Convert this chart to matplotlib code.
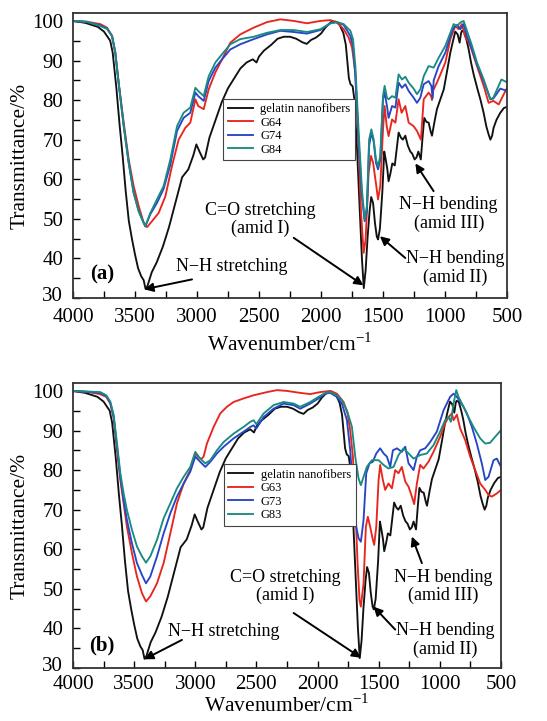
import numpy as np
import matplotlib
matplotlib.use("Agg")
import matplotlib.pyplot as plt
from matplotlib.ticker import MultipleLocator
from matplotlib.transforms import ScaledTranslation

plt.rcParams['font.family'] = ['Liberation Serif', 'DejaVu Serif']
plt.rcParams['mathtext.fontset'] = 'custom'
plt.rcParams['mathtext.rm'] = 'Liberation Serif'

# ---------------- data ----------------
# gelatin nanofibers (same in both panels)
wn_gel = [4000, 3900, 3800, 3750, 3700, 3680, 3650, 3625, 3600, 3575, 3550, 3525, 3500, 3475, 3450, 3430,
          3415, 3400, 3390, 3365, 3325, 3275, 3225, 3175, 3120, 3070, 3030, 3005, 2980, 2950, 2935, 2900,
          2850, 2800, 2750, 2700, 2650, 2600, 2550, 2520, 2500, 2460, 2400, 2350, 2300, 2250, 2200, 2150,
          2115, 2080, 2040, 2000, 1965, 1920, 1880, 1850, 1820, 1800, 1785, 1775, 1762, 1745, 1730, 1710,
          1690, 1670, 1655, 1640, 1625, 1608, 1595, 1580, 1565, 1550, 1540, 1525, 1505, 1490, 1478, 1465,
          1455, 1440, 1425, 1405, 1385, 1374, 1355, 1340, 1320, 1300, 1280, 1265, 1245, 1230, 1215, 1205,
          1195, 1180, 1167, 1150, 1132, 1115, 1105, 1085, 1065, 1040, 1010, 985, 957, 935, 917, 898, 882,
          870, 863, 845, 825, 809, 790, 769, 740, 715, 690, 667, 650, 634, 620, 608, 585, 554, 525, 500]
t_gel = [100, 99.5, 98.5, 97.3, 95, 92, 83, 74, 66, 57, 49.5, 45, 41, 37.5, 35.5, 34.5,
         32.3, 33, 34, 36.5, 39, 43, 48, 54, 60.5, 62.5, 66, 68.8, 67, 65, 65.5, 70.5,
         75, 79.5, 83, 85.5, 88, 89.5, 90.3, 89.5, 91, 92.5, 94, 95.5, 96, 96, 95.5, 94.6,
         94.2, 95.2, 95.8, 96.8, 98.3, 99.7, 99.8, 99, 97, 94, 89, 85.5, 84, 83.5, 80, 68,
         54, 40, 32.5, 37, 45, 52, 55.5, 54, 49, 45.5, 44.8, 47.5, 57, 67, 65, 62.5,
         59.5, 61.5, 64, 63.5, 69, 71.8, 70.5, 70, 71, 68.5, 67, 66.5, 65, 65.5, 67, 66,
         65, 71, 75.5, 74.5, 74.3, 72, 71, 74.5, 77.7, 80, 82.7, 87, 92, 95, 97.3, 96.6, 94.5,
         97, 97.5, 97.2, 95, 92.8, 89.5, 86.5, 83, 80.2, 77, 73.4, 71.5, 70, 71, 73, 75, 76.8, 78, 78.3]

# panel (a)
wn_g64 = [4000, 3890, 3780, 3726, 3685, 3659, 3632, 3591, 3551, 3511, 3470, 3430, 3403, 3363, 3309, 3255,
          3202, 3148, 3094, 3054, 3013, 2990, 2946, 2906, 2852, 2798, 2731, 2651, 2543, 2435, 2328, 2220,
          2113, 2005, 1925, 1871, 1817, 1777, 1750, 1723, 1696, 1677, 1656, 1640, 1616, 1597, 1580, 1554,
          1540, 1522, 1500, 1487, 1470, 1455, 1427, 1400, 1374, 1350, 1320, 1293, 1253, 1226, 1194, 1172,
          1132, 1112, 1105, 1095, 1065, 997, 957, 917, 890, 863, 840, 796, 742, 688, 648, 610, 567, 500]
t_g64 = [100, 99.8, 99.2, 98.3, 96.2, 92, 84.4, 74.3, 65, 58.3, 53.2, 49, 47.9, 49.4, 51.5, 55.7,
         63.3, 70, 73, 74.3, 80.2, 78.5, 77.7, 82.7, 87, 90.3, 94.5, 96.6, 98.3, 99.7, 100.4, 100,
         99.4, 100, 100.2, 99.7, 97.9, 95.8, 93.3, 87, 67.5, 51.5, 41.4, 44.8, 61.6, 65.9, 64.2, 58.3,
         54.9, 58.3, 72.6, 78.5, 73.4, 70.9, 75.1, 74.3, 80.2, 76.8, 78.5, 74.3, 73.4, 72.2, 70, 80.2,
         81.9, 81, 80, 82.5, 84.4, 89.5, 95.4, 98.7, 97.9, 99.2, 96.2, 93.7, 88.6, 83.6, 79.3, 79.8, 78.9, 83.1]

wn_g74 = [4000, 3887, 3780, 3726, 3685, 3659, 3632, 3591, 3551, 3511, 3470, 3430, 3417, 3376, 3323, 3269,
          3215, 3161, 3108, 3054, 3013, 2990, 2946, 2906, 2852, 2798, 2731, 2651, 2543, 2435, 2328, 2220,
          2113, 2005, 1925, 1871, 1817, 1763, 1742, 1723, 1696, 1670, 1648, 1630, 1612, 1594, 1575, 1557,
          1540, 1522, 1500, 1487, 1468, 1455, 1427, 1400, 1374, 1347, 1320, 1293, 1253, 1226, 1199, 1172,
          1132, 1110, 1100, 1091, 1051, 997, 957, 930, 903, 876, 850, 823, 782, 742, 688, 634, 610, 554, 500]
t_g74 = [100, 99.7, 98.9, 98.1, 96.2, 92, 84.4, 73.4, 64.2, 56.6, 51.9, 49, 48.1, 51.2, 54, 57.6,
         63.7, 72.2, 75.5, 76.8, 81.9, 81, 79.8, 84.8, 88.2, 90.3, 92.8, 94.1, 95.4, 96.6, 97.5, 97.2,
         96.8, 97.7, 99.4, 99.7, 99, 96.2, 93.7, 86, 69.2, 55.7, 49.4, 52, 68.4, 71.8, 69.5, 64.2,
         62.5, 65, 80.2, 81.9, 78.5, 75.5, 78.5, 78.1, 84.4, 83.1, 84, 82.3, 80.6, 79.3, 80.6, 84,
         84.8, 83.6, 80.5, 85, 88.6, 92, 96.2, 98.3, 99, 97.9, 99.2, 96.2, 92.8, 89, 84.8, 80.2, 80.4, 82.9, 82.3]

wn_g84 = [4000, 3887, 3780, 3726, 3685, 3659, 3632, 3591, 3551, 3511, 3470, 3430, 3417, 3376, 3323, 3269,
          3215, 3161, 3108, 3054, 3013, 2990, 2946, 2906, 2852, 2798, 2731, 2651, 2543, 2435, 2328, 2220,
          2113, 2005, 1925, 1871, 1817, 1763, 1742, 1723, 1696, 1670, 1648, 1630, 1612, 1594, 1575, 1557,
          1540, 1522, 1500, 1487, 1468, 1455, 1427, 1400, 1374, 1347, 1320, 1293, 1253, 1226, 1199, 1172,
          1132, 1091, 1051, 997, 957, 930, 903, 876, 850, 823, 782, 742, 688, 634, 610, 545, 500]
t_g84 = [100, 99.8, 98.7, 98, 96.2, 92, 84.4, 73.4, 64.2, 56.6, 51.9, 49, 48.1, 51.5, 54.9, 58.3,
         65, 73.4, 76.8, 78.1, 83.1, 82.3, 81, 86, 89.5, 91.6, 94.1, 95.4, 96, 97, 97.7, 97.7,
         97.2, 97.9, 99.4, 99.7, 99.2, 97.5, 95.4, 88.6, 71.8, 57.4, 49.8, 53.2, 70, 72.6, 70, 65,
         63.3, 65.9, 81, 83.6, 80.6, 80.2, 81, 80.6, 86.5, 85.2, 85.9, 84.4, 82.9, 81.5, 82.7, 86,
         88.6, 88.2, 90.7, 93.7, 97, 99.2, 98.7, 99.6, 100, 97.5, 93.7, 89.5, 85.2, 80.2, 80.6, 85.2, 84.5]

# panel (b)
wn_g63 = [4000, 3887, 3780, 3728, 3695, 3668, 3640, 3613, 3586, 3559, 3518, 3477, 3436, 3403, 3368, 3313,
          3259, 3204, 3150, 3095, 3041, 3000, 2973, 2950, 2932, 2905, 2850, 2796, 2741, 2687, 2605, 2523,
          2414, 2332, 2251, 2142, 2060, 1978, 1896, 1842, 1787, 1755, 1733, 1711, 1692, 1673, 1657, 1646,
          1624, 1605, 1589, 1570, 1548, 1537, 1520, 1501, 1488, 1466, 1447, 1420, 1392, 1365, 1338, 1311,
          1283, 1256, 1229, 1210, 1188, 1161, 1134, 1093, 1052, 998, 957, 929, 902, 888, 861, 834, 793,
          752, 711, 670, 629, 602, 575, 534, 500]
t_g63 = [100, 99.8, 99.2, 98.5, 96.8, 93.4, 85, 77.5, 71.6, 65.7, 59, 53.1, 48.9, 46.8, 48.1, 51.4,
         56.5, 64, 71.6, 76.6, 80, 84.2, 83.2, 82.8, 83.4, 86.7, 90.9, 94.3, 96, 97.2, 98.1, 98.9,
         99.7, 100.2, 100, 99.5, 99.2, 99.7, 100, 99.3, 97.2, 94.3, 90, 83.4, 71.6, 56.5, 47.2, 45.5,
         51.4, 65.7, 68.2, 65.7, 62.4, 61.1, 65.7, 77.5, 81.3, 77.5, 75, 76.6, 75.4, 80, 79.2, 80.8,
         77.1, 75.8, 73.3, 71.4, 76.6, 81.3, 80.4, 82.1, 84.6, 88.4, 91.8, 93.4, 94.3, 92.6, 94, 90.5, 87.6,
         83.4, 80, 76.6, 75, 73.7, 73.3, 74.1, 75]

wn_g73 = [4000, 3777, 3728, 3695, 3668, 3640, 3613, 3586, 3559, 3518, 3477, 3436, 3403, 3368, 3313, 3259,
          3204, 3150, 3095, 3041, 3000, 2960, 2918, 2877, 2823, 2768, 2687, 2605, 2550, 2523, 2501, 2441,
          2360, 2278, 2196, 2142, 2060, 1992, 1937, 1896, 1842, 1801, 1760, 1733, 1706, 1684, 1665, 1646,
          1624, 1602, 1575, 1548, 1520, 1488, 1460, 1433, 1406, 1384, 1351, 1311, 1283, 1256, 1215, 1188,
          1161, 1120, 1079, 1025, 970, 916, 888, 861, 834, 807, 779, 738, 698, 657, 629, 602, 561, 534, 500]
t_g73 = [100, 99.5, 98.7, 97, 93.4, 85.9, 78.3, 72.4, 67.4, 61.5, 56.5, 53.5, 51.4, 53.1, 58.2, 64,
         69.1, 73.3, 76.6, 79.6, 83.4, 82.1, 80.8, 82.1, 84.2, 85.9, 88, 89.7, 90.9, 91.3, 90.5, 93.4,
         95.5, 96.8, 96.4, 95.5, 96.8, 98.1, 99.3, 99.5, 98.5, 96.8, 92.6, 85, 73.3, 65.7, 62.8, 61.9,
         67.4, 79.2, 81.7, 82.1, 84.2, 85.5, 84.2, 83.4, 80.8, 85, 85.5, 84.6, 85.9, 81.7, 80, 83.4,
         85, 85.5, 87.1, 89.7, 95.1, 98.5, 99.3, 98.5, 97.2, 96, 94.3, 90.9, 86.7, 81.7, 77.5, 78.3, 82.5, 82.9, 80.8]

wn_g83 = [4000, 3777, 3728, 3695, 3668, 3640, 3613, 3586, 3559, 3518, 3477, 3436, 3403, 3368, 3313, 3259,
          3204, 3150, 3095, 3041, 3000, 2960, 2918, 2877, 2823, 2768, 2687, 2605, 2550, 2523, 2501, 2441,
          2360, 2278, 2196, 2142, 2060, 1992, 1937, 1896, 1842, 1801, 1760, 1719, 1692, 1665, 1646, 1624,
          1597, 1556, 1501, 1460, 1420, 1379, 1338, 1297, 1256, 1215, 1161, 1106, 1052, 998, 957, 929,
          910, 888, 866, 847, 807, 766, 725, 670, 629, 589, 548, 500]
t_g83 = [100, 99.7, 98.9, 97.3, 94, 86.7, 79.2, 74.1, 69.9, 64.9, 60.7, 58.2, 56.6, 58.2, 62.4, 67.8,
         71.6, 75.4, 78.3, 80.8, 84.6, 82.9, 81.7, 82.5, 85, 87.1, 89.2, 90.9, 92.2, 92.6, 91.6, 94.3,
         96.4, 97.2, 96.8, 96, 97.2, 98.5, 99.5, 99.7, 98.9, 97.6, 95.1, 90.9, 83.4, 77.9, 76.2, 78.3,
         80.8, 82.5, 82.5, 81.3, 80.4, 80.8, 83.8, 85.5, 84.2, 82.9, 83.8, 84.2, 86.3, 89.7, 92.6, 93.4,
         92.2, 96.8, 100.2, 98.5, 96, 93.4, 90.9, 88, 86.7, 86.9, 88.4, 90.1]

xticks = [4000, 3500, 3000, 2500, 2000, 1500, 1000, 500]
yticks = [30, 40, 50, 60, 70, 80, 90, 100]

C_BLACK = '#111111'
C_RED = '#e8261e'
C_BLUE = '#2646c8'
C_TEAL = '#1b8a82'

W, H = 547, 721
fig = plt.figure(figsize=(W / 100, H / 100), dpi=100)

ax_a = fig.add_axes([73 / W, 1 - 298 / H, (507 - 73) / W, (298 - 13) / H])
ax_b = fig.add_axes([73 / W, 1 - 668 / H, (501 - 73) / W, (668 - 383) / H])


def style(ax, xpad, xlabelpad):
    ax.set_xlim(4000, 500)
    ax.set_ylim(30, 102)
    ax.set_xticks(xticks)
    ax.set_yticks(yticks)
    ax.xaxis.set_minor_locator(MultipleLocator(250))
    ax.yaxis.set_minor_locator(MultipleLocator(5))
    ax.tick_params(which='both', direction='in', top=False, right=False, labelsize=15)
    ax.tick_params(axis='x', which='major', pad=xpad)
    ax.tick_params(axis='y', which='major', pad=7)
    ax.tick_params(which='major', length=5, width=1.0)
    ax.tick_params(which='minor', length=5, width=1.0)
    for s in ax.spines.values():
        s.set_linewidth(1.3)
        s.set_color('#333333')
    ax.set_ylabel('Transmittance/%', fontsize=15.5, labelpad=2)
    ax.set_xlabel('Wavenumber/cm$^{\\mathregular{-1}}$', fontsize=15.5, labelpad=xlabelpad)
    # lift the lowest y label a little so it does not touch the first x label
    lab = ax.yaxis.get_major_ticks()[0].label1
    lab.set_transform(lab.get_transform() + ScaledTranslation(0, 3 / 72, fig.dpi_scale_trans))


def plot_panel(ax, series, labels, legend_anchor):
    cols = [C_BLACK, C_RED, C_BLUE, C_TEAL]
    for (wn, t), lab, c in zip(series, labels, cols):
        ax.plot(wn, t, color=c, lw=1.35, label=lab)
    leg = ax.legend(loc='lower left', bbox_to_anchor=legend_anchor, fontsize=9, frameon=True,
                    fancybox=False, edgecolor='#444444', framealpha=1, borderpad=0.35,
                    labelspacing=0.12, handlelength=2.0, handletextpad=0.6, borderaxespad=0)
    leg.get_frame().set_linewidth(0.8)


def arrow(ax, tip, tail):
    ax.annotate('', xy=tip, xytext=tail,
                arrowprops=dict(arrowstyle='-|>', color='black', lw=1.4, mutation_scale=13,
                                shrinkA=0, shrinkB=0))


style(ax_a, 7, 5)
plot_panel(ax_a, [(wn_gel, t_gel), (wn_g64, t_g64), (wn_g74, t_g74), (wn_g84, t_g84)],
           ['gelatin nanofibers', 'G64', 'G74', 'G84'], (0.346, 0.484))
ax_a.text(3766, 35.9, '(a)', fontsize=15, fontweight='bold', ha='center', va='center')
ax_a.text(2718, 38.0, 'N\u2212H stretching', fontsize=13, ha='center', va='center')
arrow(ax_a, (3425, 32.2), (3040, 34.7))
ax_a.text(2489, 49.8, 'C=O stretching\n(amid I)', fontsize=13, ha='center', va='center', linespacing=1.1)
arrow(ax_a, (1658, 33.2), (2220, 45.2))
ax_a.text(970, 51.3, 'N\u2212H bending\n(amid III)', fontsize=13, ha='center', va='center', linespacing=1.1)
arrow(ax_a, (1239, 64.0), (1092, 57.0))
ax_a.text(917, 37.5, 'N\u2212H bending\n(amid II)', fontsize=13, ha='center', va='center', linespacing=1.1)
arrow(ax_a, (1525, 45.6), (1320, 40.1))

style(ax_b, 5, 0)
plot_panel(ax_b, [(wn_gel, t_gel), (wn_g63, t_g63), (wn_g73, t_g73), (wn_g83, t_g83)],
           ['gelatin nanofibers', 'G63', 'G73', 'G83'], (0.353, 0.50))
ax_b.text(3763, 35.6, '(b)', fontsize=15, fontweight='bold', ha='center', va='center')
ax_b.text(2768, 39.2, 'N\u2212H stretching', fontsize=13, ha='center', va='center')
arrow(ax_b, (3417, 32.2), (3109, 37.1))
ax_b.text(2264, 50.6, 'C=O stretching\n(amid I)', fontsize=13, ha='center', va='center', linespacing=1.1)
arrow(ax_b, (1645, 32.6), (2196, 43.9))
ax_b.text(970, 50.6, 'N\u2212H bending\n(amid III)', fontsize=13, ha='center', va='center', linespacing=1.1)
arrow(ax_b, (1229, 63.2), (1147, 56.5))
ax_b.text(956, 37.1, 'N\u2212H bending\n(amid II)', fontsize=13, ha='center', va='center', linespacing=1.1)
arrow(ax_b, (1542, 45.5), (1365, 39.7))

fig.savefig('out.png', dpi=100)
